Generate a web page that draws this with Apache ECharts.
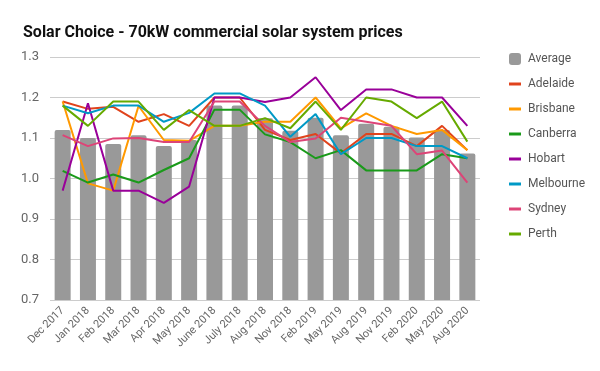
<!DOCTYPE html>
<html>
<head>
<meta charset="utf-8">
<script src="https://cdn.jsdelivr.net/npm/echarts@6/dist/echarts.min.js"></script>
<style>html,body{margin:0;padding:0;background:#fff}#c{width:600px;height:371px}</style>
</head>
<body>
<div id="c"></div>
<script>
const categories = ["Dec 2017","Jan 2018","Feb 2018","Mar 2018","Apr 2018","May 2018","June 2018","July 2018","Aug 2018","Nov 2018","Feb 2019","May 2019","Aug 2019","Nov 2019","Feb 2020","May 2020","Aug 2020"];
const yTicks = [0.7, 0.8, 0.9, 1.0, 1.1, 1.2, 1.3];
const average   = [1.12, 1.10, 1.085, 1.107, 1.08, 1.095, 1.18, 1.18, 1.149, 1.118, 1.15, 1.107, 1.135, 1.128, 1.101, 1.12, 1.062];
const adelaide  = [1.19, 1.172, 1.177, 1.14, 1.159, 1.13, 1.20, 1.20, 1.12, 1.095, 1.11, 1.062, 1.11, 1.11, 1.08, 1.13, 1.07];
const brisbane  = [1.19, 0.988, 0.97, 1.179, 1.095, 1.093, 1.13, 1.13, 1.14, 1.14, 1.20, 1.124, 1.161, 1.13, 1.11, 1.12, 1.07];
const canberra  = [1.019, 0.99, 1.01, 0.99, 1.021, 1.05, 1.17, 1.17, 1.109, 1.09, 1.05, 1.07, 1.02, 1.02, 1.02, 1.06, 1.05];
const hobart    = [0.97, 1.186, 0.97, 0.97, 0.94, 0.98, 1.20, 1.20, 1.189, 1.20, 1.25, 1.169, 1.22, 1.22, 1.20, 1.20, 1.13];
const melbourne = [1.18, 1.161, 1.18, 1.18, 1.14, 1.162, 1.21, 1.21, 1.18, 1.103, 1.159, 1.06, 1.10, 1.10, 1.08, 1.08, 1.05];
const sydney    = [1.107, 1.08, 1.099, 1.10, 1.09, 1.09, 1.19, 1.19, 1.13, 1.09, 1.099, 1.15, 1.14, 1.13, 1.06, 1.069, 0.99];
const perth     = [1.18, 1.13, 1.19, 1.19, 1.12, 1.169, 1.13, 1.13, 1.149, 1.124, 1.19, 1.12, 1.20, 1.19, 1.149, 1.19, 1.091];

const lineNames = ["Adelaide","Brisbane","Canberra","Hobart","Melbourne","Sydney","Perth"];
const lineData = [adelaide, brisbane, canberra, hobart, melbourne, sydney, perth];
const lineColors = ["#e0431c","#ff9900","#1a9a1a","#990099","#0099c6","#dd4477","#66aa00"];

const font = "Roboto, 'Liberation Sans', Arial, sans-serif";
const chart = echarts.init(document.getElementById('c'), null, {renderer: 'canvas'});
const series = [{
  name: 'Average', type: 'bar', data: average, barWidth: 16,
  itemStyle: {color: '#999999', borderRadius: [2,2,0,0]}, z: 1
}];
lineNames.forEach((n, i) => series.push({
  name: n, type: 'line', data: lineData[i], showSymbol: false, symbol: 'none',
  lineStyle: {width: 2, color: lineColors[i]}, itemStyle: {color: lineColors[i]}, z: 2 + i
}));
chart.setOption({
  animation: false,
  textStyle: {fontFamily: font},
  title: {text: 'Solar Choice - 70kW commercial solar system prices', left: 18, top: 20,
    textStyle: {fontFamily: font, fontSize: 16, fontWeight: 'bold', color: '#111'}},
  legend: [{
    data: [{name: 'Average', icon: 'roundRect'}], orient: 'vertical', left: 504, top: 47,
    itemWidth: 12, itemHeight: 12, itemGap: 11,
    textStyle: {fontFamily: font, fontSize: 12, color: '#555', lineHeight: 14, padding: [0,0,0,2]}
  }, {
    data: lineNames.map(n => ({name: n, icon: 'rect'})), orient: 'vertical', left: 504, top: 72,
    itemWidth: 12, itemHeight: 3, itemGap: 11,
    textStyle: {fontFamily: font, fontSize: 12, color: '#555', lineHeight: 14, padding: [0,0,0,2]}
  }],
  grid: {left: 50, right: 120, top: 57, bottom: 71, containLabel: false},
  xAxis: {
    type: 'category', data: categories,
    axisLine: {show: false}, axisTick: {show: false},
    axisLabel: {rotate: 45, fontSize: 11, color: '#666', margin: 9, interval: 0, fontFamily: font}
  },
  yAxis: {
    type: 'value', min: yTicks[0], max: yTicks[yTicks.length-1], interval: 0.1,
    axisLabel: {formatter: v => v.toFixed(1), fontSize: 13, color: '#666', margin: 11, fontFamily: font},
    splitLine: {lineStyle: {color: '#cccccc', width: 1}},
    axisLine: {show: false}, axisTick: {show: false}
  },
  series: series
});
</script>
</body>
</html>
